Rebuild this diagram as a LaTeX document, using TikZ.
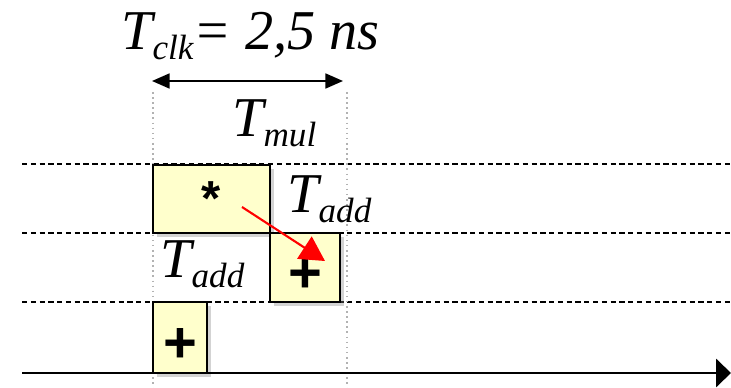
\documentclass[tikz,border=0pt]{standalone}
\usepackage{fontspec}
\setmainfont{Liberation Serif}
\newfontfamily\opfont{Liberation Sans}
\usetikzlibrary{arrows.meta, shadows}
\definecolor{boxyellow}{RGB}{255,255,204}
\tikzset{opbox/.style={draw, line width=1.6pt, fill=boxyellow, inner sep=0pt, drop shadow={shadow xshift=2pt, shadow yshift=-2pt, opacity=0.35}, font=\opfont\bfseries}}
\tikzset{plusbox/.style={opbox, text height=28pt, text depth=0pt, font=\opfont\bfseries\fontsize{33}{33}\selectfont}}
\tikzset{timelabel/.style={inner sep=0pt, font=\itshape\fontsize{32}{32}\selectfont}}
\tikzset{gridline/.style={densely dashed, line width=0.6pt}}
\tikzset{slotline/.style={dotted, gray!60, line width=0.9pt}}
\newcommand{\tdelay}[1]{T\raisebox{-5.5pt}{\fontsize{20}{20}\selectfont #1}}

\begin{document}
\begin{tikzpicture}[x=0.02cm, y=-0.02cm]
\useasboundingbox (0,0) rectangle (731,388);
% stage rows and clock edges
\foreach \y in {164,233,302} \draw[gridline] (22,\y) -- (731,\y);
\coordinate (edgeA) at (153,92);
\coordinate (edgeAbot) at (153,388);
\coordinate (edgeB) at (347,92);
\coordinate (edgeBbot) at (347,388);
\draw[slotline] (edgeA) -- (edgeAbot);
\draw[slotline] (edgeB) -- (edgeBbot);
% clock period
\node[timelabel, anchor=base west] (tclk) at (121,50) {\tdelay{clk}= 2,5 ns};
\coordinate (clkL) at (152,81);
\coordinate (clkR) at (343,81);
\draw[line width=1.1pt, {Triangle[length=10pt,width=8.5pt]}-{Triangle[length=10pt,width=8.5pt]}] (clkL) -- (clkR);
% operations
\node[opbox, minimum width=2.34cm, minimum height=1.36cm, font=\opfont\bfseries\fontsize{28}{28}\selectfont] (mul) at (211.5,199) {*};
\node[plusbox, minimum width=1.4cm, minimum height=1.38cm] (addA) at (305,267.5) {+};
\node[plusbox, minimum width=1.08cm, minimum height=1.42cm] (addB) at (180,337.5) {+};
\node[timelabel, anchor=base west] (tmul) at (232,137) {\tdelay{mul}};
\node[timelabel, anchor=base west] (taddA) at (287,213) {\tdelay{add}};
\node[timelabel, anchor=base west] (taddB) at (160,278) {\tdelay{add}};
% dependency
\coordinate (depS) at (242,207);
\coordinate (depE) at (325,261);
\draw[red, line width=1.2pt, -{Triangle[length=14pt,width=15pt]}] (depS) -- (depE);
% time axis
\coordinate (t0) at (22,373);
\coordinate (tend) at (731,373);
\draw[line width=1.7pt, -{Triangle[length=8.5pt,width=16pt]}] (t0) -- (tend);
\end{tikzpicture}
\end{document}
